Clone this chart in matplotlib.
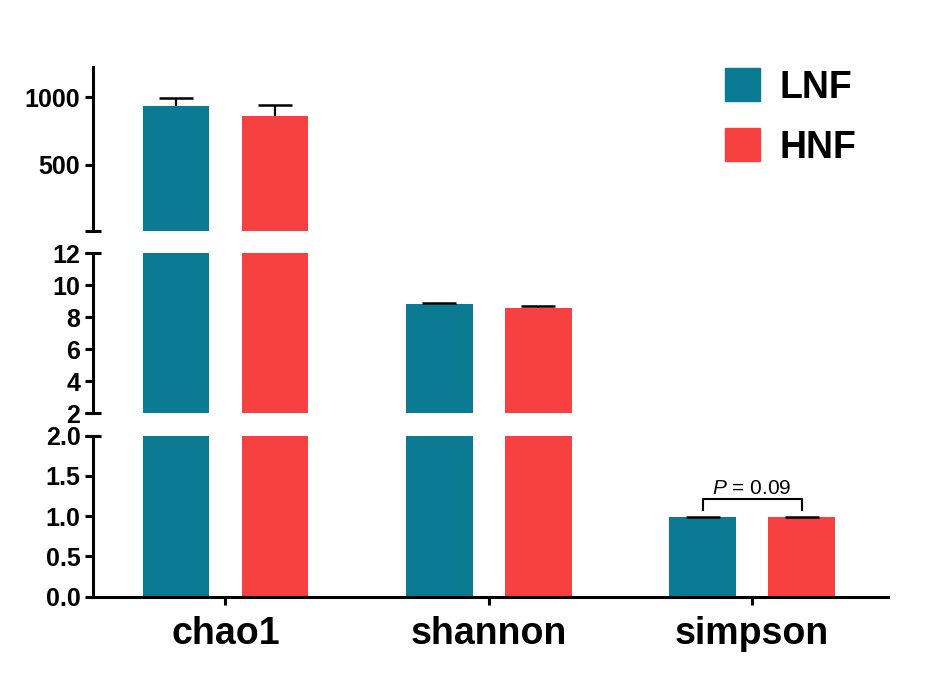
import numpy as np
import matplotlib
matplotlib.use("Agg")
from matplotlib import pyplot as plt
from matplotlib.patches import Patch
from matplotlib.ticker import FormatStrFormatter

plt.rcParams['font.family'] = ['Liberation Sans', 'DejaVu Sans']
plt.rcParams['mathtext.fontset'] = 'custom'
plt.rcParams['mathtext.rm'] = 'Liberation Sans'
plt.rcParams['mathtext.it'] = 'Liberation Sans:italic'

######################## data ########################
categories = ['chao1', 'shannon', 'simpson']
groups = ['LNF', 'HNF']
lnf_mean = [930, 8.83, 0.99]
lnf_err = [63, 0.08, 0.004]
hnf_mean = [860, 8.58, 0.99]
hnf_err = [78, 0.15, 0.004]
p_label = 'simpson'
p_text = r'$P$ = 0.09'

colors = {'LNF': '#0B7A93', 'HNF': '#F74141'}

# broken y axis segments: (limits, ticks, pixel rows bottom/top)
W, H = 935, 682
segments = [
    ((10, 1220), [500, 1000], (230.7, 67.3)),
    ((2, 12), [2, 4, 6, 8, 10, 12], (413.3, 253.3)),
    ((0, 2.0), [0, 0.5, 1.0, 1.5, 2.0], (596.7, 435.7)),
]
left_px, right_px = 93.3, 888
lw = 2.2
bar_w = 0.2526
off = 0.188

x = np.arange(len(categories))

def draw_err(ax, xs, means, errs, lims):
    # upper half error bars only (stem + top cap), only where they fall in this segment
    means = np.asarray(means)
    tops = means + np.asarray(errs)
    keep = (means > lims[0]) & (means < lims[1])
    ax.vlines(xs[keep], means[keep], tops[keep], color='black', lw=1.6, zorder=3)
    ax.plot(xs[keep], tops[keep], ls='none', marker='_', ms=24, mew=1.8, color='black', zorder=3)

fig = plt.figure(figsize=(W / 100, H / 100), dpi=100)
axes = []
for i_seg, (lims, ticks, (y0, y1)) in enumerate(segments):
    ax = fig.add_axes([left_px / W, 1 - y0 / H, (right_px - left_px) / W, (y0 - y1) / H])
    axes.append(ax)
    ax.bar(x - off, lnf_mean, bar_w, color=colors['LNF'], zorder=2)
    ax.bar(x + off, hnf_mean, bar_w, color=colors['HNF'], zorder=2)
    draw_err(ax, x - off, lnf_mean, lnf_err, lims)
    draw_err(ax, x + off, hnf_mean, hnf_err, lims)
    ax.set_xlim(-0.502, 2.516)
    ax.set_ylim(*lims)
    ax.set_yticks(ticks)
    for s in ['top', 'right']:
        ax.spines[s].set_visible(False)
    ax.spines['left'].set_linewidth(lw)
    ax.tick_params(axis='y', direction='out', length=5.8, width=lw, pad=3.5, labelsize=18)
    # end caps at the axis breaks
    if i_seg == 0:
        caps = [lims[0]]
    elif i_seg == 1:
        caps = [lims[0], lims[1]]
    else:
        caps = [lims[1]]
    ax.yaxis.remove_overlapping_locs = False
    ax.set_yticks(caps, minor=True)
    ax.tick_params(axis='y', which='minor', direction='inout', length=11, width=lw)
    if i_seg < 2:
        ax.spines['bottom'].set_visible(False)
        ax.set_xticks([])
    else:
        ax.spines['bottom'].set_linewidth(lw)
        ax.set_xticks(x)
        ax.set_xticklabels(categories, fontsize=27, fontweight='bold')
        ax.tick_params(axis='x', direction='out', length=5.8, width=lw, pad=8)
        ax.yaxis.set_major_formatter(FormatStrFormatter('%.1f'))
    for lab in ax.get_yticklabels():
        lab.set_fontweight('bold')

# P value bracket on simpson
ax = axes[2]
k = categories.index(p_label)
ax.plot([k - off, k - off, k + off, k + off], [1.072, 1.217, 1.217, 1.072],
        color='black', lw=1.5, clip_on=False, zorder=4)
ax.text(k, 1.35, p_text, ha='center', va='center', fontsize=15)

# legend
handles = [Patch(color=colors[g]) for g in groups]
fig.legend(handles, groups, loc='upper left', bbox_to_anchor=(725 / W, 1 - 68 / H),
           frameon=False, prop={'weight': 'bold', 'size': 27},
           handlelength=0.92, handleheight=0.99, handletextpad=0.52,
           labelspacing=0.6, borderpad=0, borderaxespad=0)

plt.savefig('out.png', dpi=100)
